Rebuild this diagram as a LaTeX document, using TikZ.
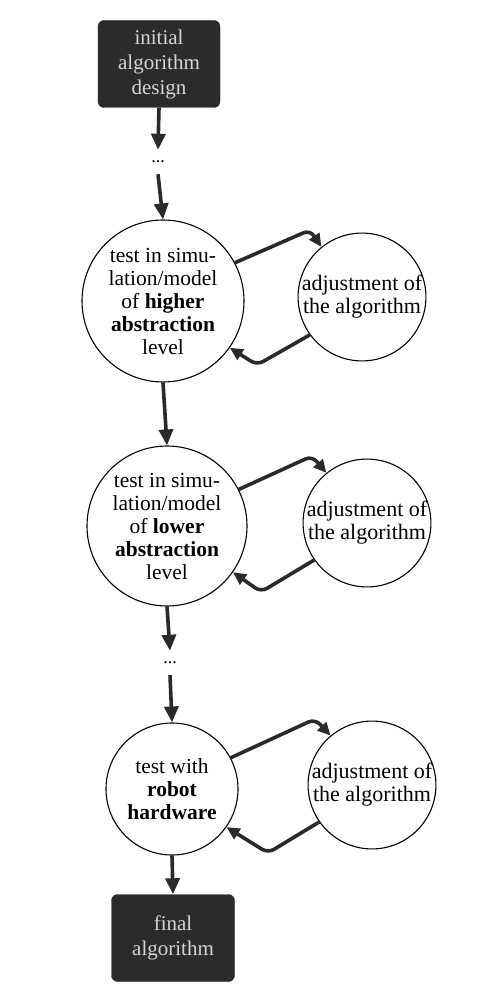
\documentclass[tikz,border=0pt]{standalone}
\usepackage{fontspec}
\setmainfont{Liberation Serif}
\usetikzlibrary{arrows.meta}
\definecolor{boxfill}{HTML}{2B2B2B}
\definecolor{boxtext}{HTML}{D6D6D6}
\definecolor{arrcol}{HTML}{2A2A2A}
\tikzset{
  darkbox/.style={rectangle, rounded corners=6pt, fill=boxfill, draw=boxfill,
    text=boxtext, align=center, inner sep=0pt, font=\fontsize{21}{25}\selectfont},
  testcirc/.style={circle, draw=black, line width=1.1pt, inner sep=0pt, align=center,
    font=\fontsize{21.5}{23}\selectfont},
  adjcirc/.style={circle, draw=black, line width=1.1pt, inner sep=0pt, align=center,
    font=\fontsize{22}{23}\selectfont},
  dotsnode/.style={inner sep=0pt, minimum height=24pt, font=\fontsize{18}{18}\selectfont},
  mainarr/.style={draw=arrcol, line width=3.6pt, -{Triangle[length=16pt,width=14pt]}},
  looparr/.style={draw=arrcol, line width=3.6pt, rounded corners=7pt, -{Triangle[length=13pt,width=12pt]}}
}
\begin{document}
\begin{tikzpicture}[x=1pt,y=-1pt]
\useasboundingbox (0,0) rectangle (481,995);
\fill[white] (0,0) rectangle (481,995);

\node[darkbox, minimum width=122pt, minimum height=87pt] (top) at (159,64) {initial\\algorithm\\design};
\node[dotsnode] (d1) at (158,162) {...};
\node[testcirc, minimum size=162pt] (c1) at (163,301) {test in simu-\\lation/model\\of \textbf{higher}\\\textbf{abstraction}\\level};
\node[adjcirc, minimum size=124pt] (a1) at (362,297) {adjustment of\\the algorithm};

\node[testcirc, minimum size=160pt] (c2) at (167,526) {test in simu-\\lation/model\\of \textbf{lower}\\\textbf{abstraction}\\level};
\node[adjcirc, minimum size=124pt] (a2) at (367,523) {adjustment of\\the algorithm};

\node[dotsnode] (d2) at (170,663) {...};
\node[testcirc, minimum size=132pt] (c3) at (172,789) {test with\\\textbf{robot}\\\textbf{hardware}};
\node[adjcirc, minimum size=122pt] (a3) at (372,785) {adjustment of\\the algorithm};

\node[darkbox, minimum width=123pt, minimum height=87pt] (bot) at (173,938) {final\\algorithm};

\coordinate (k1) at (310,230);
\coordinate (r1) at (257,365);
\coordinate (k2) at (312,456);
\coordinate (r2) at (261,592);
\coordinate (k3) at (315,719);
\coordinate (r3) at (268,853);

\draw[mainarr] (top.south) -- (d1.north);
\draw[mainarr] (d1.south) -- (c1.north);
\draw[mainarr] (c1.south) -- (c2.north);
\draw[mainarr] (c2.south) -- (d2.north);
\draw[mainarr] (d2.south) -- (c3.north);
\draw[mainarr] (c3.south) -- (bot.north);

\draw[looparr] (c1.28) -- (k1) -- (a1.129);
\draw[looparr] (a1.216) -- (r1) -- (c1.325);
\draw[looparr] (c2.27) -- (k2) -- (a2.129);
\draw[looparr] (a2.215) -- (r2) -- (c2.325);
\draw[looparr] (c3.28) -- (k3) -- (a3.130);
\draw[looparr] (a3.215) -- (r3) -- (c3.325);
\end{tikzpicture}
\end{document}
